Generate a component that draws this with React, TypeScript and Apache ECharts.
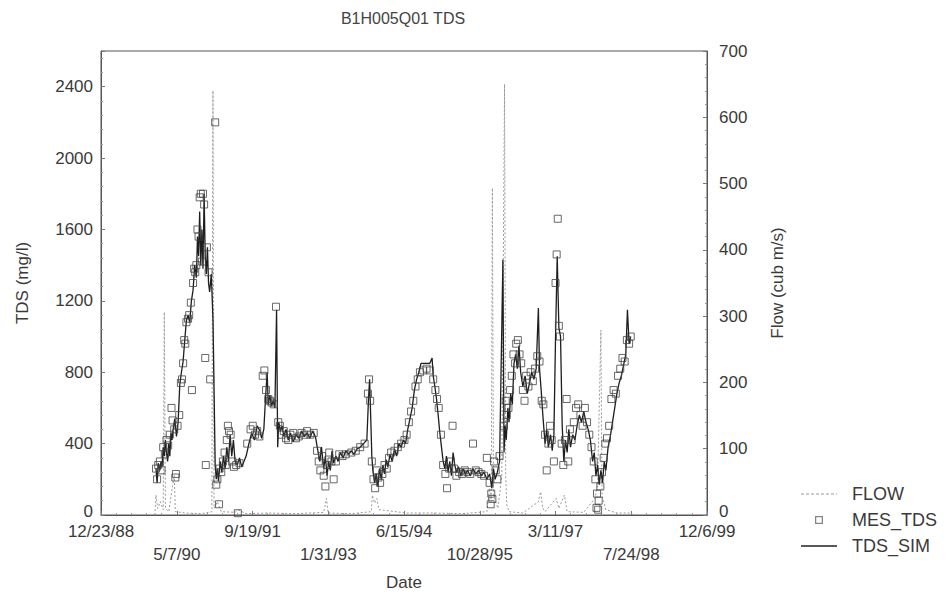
import React, { useEffect, useRef } from "react";
import * as echarts from "echarts";

// Date axis: days counted from 12/23/88, one tick every 500 days
const DATE_LABELS = ["12/23/88", "5/7/90", "9/19/91", "1/31/93", "6/15/94", "10/28/95", "3/11/97", "7/24/98", "12/6/99"];
const DAY_STEP = 500;
const TDS_TICKS = [0, 400, 800, 1200, 1600, 2000, 2400];
const FLOW_TICKS = [0, 100, 200, 300, 400, 500, 600, 700];

// [decimal year, flow in cub m/s]
const FLOW: [number, number][] = [
  [1989.95, 0], [1989.97, 30], [1990.0, 10], [1990.05, 20], [1990.1, 8], [1990.12, 306], [1990.14, 10],
  [1990.2, 5], [1990.3, 60], [1990.32, 5], [1990.5, 3], [1990.8, 2], [1990.98, 5], [1991.0, 640],
  [1991.02, 10], [1991.08, 20], [1991.15, 5], [1991.4, 4], [1991.45, 8], [1991.6, 2], [1992.0, 3],
  [1992.5, 2], [1993.0, 4], [1993.05, 25], [1993.08, 3], [1993.5, 2], [1993.86, 5], [1993.88, 30],
  [1993.92, 18], [1993.96, 25], [1994.0, 8], [1994.5, 3], [1995.0, 3], [1995.5, 2], [1995.95, 5],
  [1996.0, 40], [1996.03, 20], [1996.05, 493], [1996.07, 30], [1996.15, 10], [1996.22, 60],
  [1996.27, 650], [1996.29, 60], [1996.31, 15], [1996.35, 5], [1996.6, 3], [1996.88, 20], [1996.92, 35],
  [1996.96, 10], [1997.0, 5], [1997.2, 25], [1997.25, 10], [1997.35, 30], [1997.4, 5], [1997.7, 4],
  [1997.9, 25], [1997.95, 45], [1998.01, 279], [1998.03, 30], [1998.06, 20], [1998.1, 8], [1998.3, 3],
  [1998.55, 3], [1998.6, 0],
];

// [decimal year, simulated TDS in mg/l]
const TDS_SIM: [number, number][] = [
  [1989.97, 260], [1989.99, 180], [1990.01, 290], [1990.04, 250], [1990.06, 300], [1990.08, 270],
  [1990.1, 380], [1990.12, 330], [1990.14, 420], [1990.16, 350], [1990.18, 300], [1990.2, 400],
  [1990.22, 330], [1990.24, 460], [1990.26, 420], [1990.28, 480], [1990.31, 540], [1990.34, 440],
  [1990.37, 520], [1990.4, 730], [1990.43, 800], [1990.46, 860], [1990.49, 980], [1990.52, 1090],
  [1990.55, 1120], [1990.58, 1080], [1990.61, 1200], [1990.64, 1260], [1990.67, 1400], [1990.7, 1330],
  [1990.72, 1560], [1990.74, 1450], [1990.76, 1700], [1990.78, 1400], [1990.8, 1600], [1990.82, 1380],
  [1990.84, 1800], [1990.86, 1450], [1990.88, 1350], [1990.9, 1500], [1990.92, 1300], [1990.94, 1250],
  [1990.97, 1350], [1991.0, 1100], [1991.02, 700], [1991.04, 280], [1991.06, 200], [1991.08, 260],
  [1991.1, 190], [1991.13, 300], [1991.16, 240], [1991.19, 330], [1991.22, 260], [1991.25, 380],
  [1991.28, 300], [1991.31, 450], [1991.34, 330], [1991.37, 420], [1991.4, 300], [1991.44, 280],
  [1991.48, 320], [1991.52, 270], [1991.56, 300], [1991.6, 330], [1991.65, 400], [1991.7, 460],
  [1991.75, 420], [1991.8, 500], [1991.85, 470], [1991.88, 430], [1991.92, 480], [1991.95, 650],
  [1991.98, 800], [1992.0, 620], [1992.03, 670], [1992.06, 610], [1992.09, 640], [1992.12, 600],
  [1992.15, 1150], [1992.17, 380], [1992.19, 520], [1992.22, 470], [1992.25, 500], [1992.28, 440],
  [1992.32, 480], [1992.36, 420], [1992.4, 460], [1992.45, 410], [1992.5, 450], [1992.55, 430],
  [1992.6, 470], [1992.65, 440], [1992.7, 460], [1992.75, 430], [1992.8, 470], [1992.85, 440],
  [1992.9, 350], [1992.93, 300], [1992.96, 380], [1993.0, 260], [1993.03, 330], [1993.06, 220],
  [1993.09, 300], [1993.12, 250], [1993.15, 360], [1993.18, 290], [1993.22, 330], [1993.26, 300],
  [1993.3, 350], [1993.35, 320], [1993.4, 360], [1993.45, 340], [1993.5, 360], [1993.55, 340],
  [1993.6, 370], [1993.66, 380], [1993.72, 400], [1993.78, 420], [1993.81, 650], [1993.83, 760],
  [1993.85, 550], [1993.87, 330], [1993.89, 250], [1993.92, 180], [1993.95, 230], [1993.98, 160],
  [1994.01, 260], [1994.04, 200], [1994.07, 280], [1994.1, 230], [1994.13, 310], [1994.16, 270],
  [1994.2, 340], [1994.24, 300], [1994.28, 370], [1994.32, 330], [1994.36, 400], [1994.4, 380],
  [1994.44, 420], [1994.48, 400], [1994.52, 480], [1994.56, 540], [1994.6, 600], [1994.64, 700],
  [1994.68, 760], [1994.72, 800], [1994.76, 850], [1994.8, 850], [1994.86, 850], [1994.92, 850],
  [1994.96, 880], [1994.98, 780], [1995.01, 720], [1995.04, 650], [1995.07, 560], [1995.1, 460],
  [1995.13, 380], [1995.16, 300], [1995.19, 260], [1995.22, 330], [1995.25, 240], [1995.28, 300],
  [1995.31, 220], [1995.34, 350], [1995.37, 280], [1995.4, 240], [1995.44, 270], [1995.48, 220],
  [1995.52, 260], [1995.56, 230], [1995.6, 250], [1995.65, 220], [1995.7, 260], [1995.75, 230],
  [1995.8, 250], [1995.85, 220], [1995.9, 240], [1995.95, 200], [1996.0, 230], [1996.04, 150],
  [1996.07, 260], [1996.1, 200], [1996.14, 240], [1996.18, 300], [1996.24, 1430], [1996.26, 350],
  [1996.28, 500], [1996.3, 420], [1996.33, 600], [1996.35, 520], [1996.38, 680], [1996.41, 620],
  [1996.44, 850], [1996.47, 900], [1996.5, 820], [1996.53, 950], [1996.56, 800], [1996.6, 720],
  [1996.64, 780], [1996.68, 680], [1996.72, 740], [1996.76, 800], [1996.8, 760], [1996.84, 820],
  [1996.88, 1160], [1996.9, 820], [1996.93, 700], [1996.96, 560], [1997.0, 400], [1997.03, 480],
  [1997.06, 380], [1997.1, 450], [1997.13, 360], [1997.16, 450], [1997.19, 1000], [1997.22, 1450],
  [1997.25, 1050], [1997.28, 1000], [1997.31, 500], [1997.34, 300], [1997.37, 420], [1997.4, 350],
  [1997.43, 480], [1997.46, 380], [1997.5, 450], [1997.54, 420], [1997.58, 500], [1997.62, 560],
  [1997.66, 520], [1997.7, 580], [1997.74, 520], [1997.78, 480], [1997.82, 420], [1997.86, 300],
  [1997.89, 350], [1997.92, 220], [1997.95, 280], [1997.98, 170], [1998.01, 250], [1998.04, 180],
  [1998.07, 300], [1998.1, 250], [1998.14, 380], [1998.18, 440], [1998.22, 520], [1998.26, 600],
  [1998.3, 680], [1998.34, 740], [1998.38, 780], [1998.42, 840], [1998.46, 900], [1998.49, 1150],
  [1998.52, 960], [1998.55, 1000],
];

// [decimal year, measured TDS in mg/l]
const MES_TDS: [number, number][] = [
  [1989.97, 260], [1989.99, 200], [1990.01, 280], [1990.04, 300], [1990.07, 250], [1990.1, 380],
  [1990.13, 340], [1990.16, 420], [1990.19, 390], [1990.22, 450], [1990.25, 600], [1990.27, 530],
  [1990.3, 480], [1990.32, 210], [1990.33, 230], [1990.36, 500], [1990.39, 560], [1990.42, 740],
  [1990.44, 760], [1990.46, 850], [1990.48, 980], [1990.5, 960], [1990.52, 1080], [1990.55, 1100],
  [1990.57, 1120], [1990.6, 1190], [1990.62, 700], [1990.64, 1300], [1990.66, 1380], [1990.68, 1360],
  [1990.7, 1400], [1990.72, 1600], [1990.74, 1560], [1990.76, 1780], [1990.78, 1800], [1990.8, 1420],
  [1990.82, 1800], [1990.84, 1740], [1990.86, 880], [1990.87, 280], [1990.89, 1500], [1990.92, 1360],
  [1990.95, 760], [1991.04, 2200], [1991.06, 170], [1991.08, 200], [1991.11, 60], [1991.12, 260],
  [1991.15, 240], [1991.18, 300], [1991.21, 350], [1991.23, 280], [1991.25, 420], [1991.27, 500],
  [1991.29, 470], [1991.32, 450], [1991.35, 300], [1991.38, 270], [1991.42, 280], [1991.45, 10],
  [1991.48, 290], [1991.62, 400], [1991.68, 480], [1991.72, 500], [1991.76, 450], [1991.8, 470],
  [1991.84, 440], [1991.9, 780], [1991.93, 810], [1991.96, 700], [1992.0, 650], [1992.03, 640],
  [1992.06, 630], [1992.1, 620], [1992.14, 1167], [1992.18, 520], [1992.21, 500], [1992.24, 450],
  [1992.28, 470], [1992.32, 430], [1992.36, 420], [1992.4, 450], [1992.45, 460], [1992.5, 430],
  [1992.55, 440], [1992.6, 460], [1992.65, 450], [1992.7, 470], [1992.76, 450], [1992.82, 460],
  [1992.88, 360], [1992.91, 300], [1992.94, 250], [1992.97, 330], [1993.0, 220], [1993.03, 160],
  [1993.06, 280], [1993.1, 350], [1993.14, 300], [1993.18, 200], [1993.22, 300], [1993.28, 340],
  [1993.34, 330], [1993.4, 340], [1993.5, 350], [1993.58, 360], [1993.66, 380], [1993.74, 400],
  [1993.8, 680], [1993.82, 760], [1993.84, 640], [1993.87, 300], [1993.9, 200], [1993.93, 150],
  [1993.96, 250], [1993.99, 210], [1994.02, 180], [1994.06, 230], [1994.1, 280], [1994.14, 260],
  [1994.18, 320], [1994.22, 350], [1994.28, 360], [1994.34, 380], [1994.4, 400], [1994.46, 420],
  [1994.5, 450], [1994.54, 520], [1994.58, 580], [1994.62, 640], [1994.66, 720], [1994.7, 760],
  [1994.74, 800], [1994.8, 810], [1994.86, 820], [1994.92, 810], [1994.98, 760], [1995.02, 700],
  [1995.05, 650], [1995.08, 600], [1995.12, 450], [1995.16, 280], [1995.2, 230], [1995.23, 150],
  [1995.27, 260], [1995.3, 300], [1995.33, 500], [1995.36, 260], [1995.4, 220], [1995.45, 240],
  [1995.5, 230], [1995.55, 250], [1995.6, 240], [1995.65, 230], [1995.7, 400], [1995.75, 250],
  [1995.8, 240], [1995.85, 230], [1995.9, 220], [1995.95, 320], [1996.0, 180], [1996.02, 60],
  [1996.03, 120], [1996.05, 90], [1996.08, 300], [1996.11, 250], [1996.14, 200], [1996.18, 330],
  [1996.26, 500], [1996.29, 640], [1996.31, 560], [1996.34, 600], [1996.37, 700], [1996.4, 780],
  [1996.43, 900], [1996.46, 850], [1996.48, 960], [1996.51, 980], [1996.54, 900], [1996.57, 850],
  [1996.6, 700], [1996.63, 640], [1996.66, 780], [1996.7, 720], [1996.74, 800], [1996.78, 750],
  [1996.82, 820], [1996.86, 890], [1996.9, 860], [1996.94, 640], [1996.97, 620], [1997.0, 450],
  [1997.03, 250], [1997.06, 400], [1997.09, 500], [1997.12, 420], [1997.16, 300], [1997.19, 1300],
  [1997.21, 1460], [1997.23, 1660], [1997.25, 1060], [1997.27, 1000], [1997.3, 400], [1997.33, 280],
  [1997.36, 420], [1997.39, 650], [1997.42, 300], [1997.45, 480], [1997.48, 420], [1997.52, 520],
  [1997.56, 600], [1997.6, 620], [1997.64, 560], [1997.68, 500], [1997.72, 600], [1997.76, 520],
  [1997.8, 450], [1997.84, 380], [1997.88, 300], [1997.91, 200], [1997.93, 40], [1997.94, 120],
  [1997.96, 30], [1997.97, 80], [1998.0, 160], [1998.03, 240], [1998.06, 320], [1998.09, 400],
  [1998.12, 430], [1998.16, 500], [1998.2, 650], [1998.24, 700], [1998.28, 680], [1998.32, 780],
  [1998.36, 820], [1998.4, 880], [1998.44, 860], [1998.48, 980], [1998.52, 960], [1998.55, 1000],
];

const BASE = Date.UTC(1988, 11, 23);
const DAY = 86400000;

// decimal year -> days since 12/23/88
function toDay(yr: number): number {
  const y = Math.floor(yr);
  const s = Date.UTC(y, 0, 1);
  const e = Date.UTC(y + 1, 0, 1);
  return (s + (yr - y) * (e - s) - BASE) / DAY;
}

const toPoints = (rows: [number, number][]) => rows.map(([t, v]) => [toDay(t), v]);

const FONT = "'Liberation Sans', Arial, sans-serif";
const INK = "#3a3a3a";

// legend glyphs: thin solid bar, dashed bar, hollow square
const ICON_SOLID = "path://M0,0H36V1.4H0Z";
const ICON_DASHED = "path://M0,0H3V1H0ZM5,0H8V1H5ZM10,0H13V1H10ZM15,0H18V1H15ZM20,0H23V1H20ZM25,0H28V1H25ZM30,0H33V1H30ZM35,0H36V1H35Z";
const ICON_SQUARE = "path://M0,0H10V10H0ZM1.6,1.6V8.4H8.4V1.6Z";

export default function App() {
  const ref = useRef<HTMLDivElement>(null);

  useEffect(() => {
    if (!ref.current) return;
    const chart = echarts.init(ref.current, undefined, { renderer: "svg" });
    const maxDay = DAY_STEP * (DATE_LABELS.length - 1);

    const axisName = { fontSize: 17, color: INK, fontFamily: FONT };
    const tickLabel = { fontSize: 17, color: INK, fontFamily: FONT };
    // the zero labels sit a little higher so they clear the date row
    const zeroRich = { z: { fontSize: 17, color: INK, fontFamily: FONT, padding: [0, 0, 7, 0] } };
    const valueLabel = (ticks: number[]) => (v: number) =>
      v === 0 ? "{z|0}" : ticks.includes(v) ? String(v) : "";

    chart.setOption({
      animation: false,
      backgroundColor: "#ffffff",
      textStyle: { fontFamily: FONT, color: INK },
      title: {
        text: "B1H005Q01 TDS",
        left: 395,
        textAlign: "center",
        top: 2,
        padding: 0,
        textStyle: { fontSize: 16, fontWeight: "normal", color: "#444", fontFamily: FONT },
      },
      legend: {
        orient: "vertical",
        left: 788,
        top: 472,
        itemWidth: 36,
        itemHeight: 8,
        itemGap: 8,
        textStyle: { fontSize: 18, color: INK, fontFamily: FONT, padding: [0, 0, 0, 10] },
        data: [
          { name: "FLOW", icon: ICON_DASHED, itemStyle: { color: "#9a9a9a", borderWidth: 0 } },
          { name: "MES_TDS", icon: ICON_SQUARE, itemStyle: { color: "#666", borderWidth: 0 } },
          { name: "TDS_SIM", icon: ICON_SOLID, itemStyle: { color: "#222", borderWidth: 0 } },
        ],
      },
      grid: {
        left: 93,
        right: 231,
        top: 43,
        bottom: 78,
        outerBoundsMode: "none",
        show: true,
        borderColor: "#555",
        borderWidth: 1,
      },
      xAxis: {
        type: "value",
        min: 0,
        max: maxDay,
        interval: DAY_STEP,
        name: "Date",
        nameLocation: "middle",
        nameGap: 59,
        nameTextStyle: axisName,
        axisLine: { lineStyle: { color: "#555", width: 1 } },
        axisTick: { inside: true, length: 4, lineStyle: { color: "#777" } },
        minorTick: { show: true, splitNumber: 5, length: 2, lineStyle: { color: "#999" } },
        splitLine: { show: false },
        axisLabel: {
          ...tickLabel,
          margin: 5,
          lineHeight: 23,
          hideOverlap: false,
          formatter: (v: number) => {
            const i = Math.round(v / DAY_STEP);
            const label = DATE_LABELS[i] ?? "";
            return i % 2 === 1 ? "\n" + label : label;
          },
        },
      },
      yAxis: [
        {
          type: "value",
          min: 0,
          max: 2600,
          interval: 400,
          name: "TDS (mg/l)",
          nameLocation: "middle",
          nameGap: 70,
          nameRotate: 90,
          nameTextStyle: axisName,
          axisLine: { show: true, lineStyle: { color: "#555", width: 1 } },
          axisTick: { show: true, inside: true, length: 4, lineStyle: { color: "#777" } },
          minorTick: { show: true, splitNumber: 5, length: 2, lineStyle: { color: "#999" } },
          splitLine: { show: false },
          axisLabel: {
            ...tickLabel,
            margin: 8,
            rich: zeroRich,
            formatter: valueLabel(TDS_TICKS),
          },
        },
        {
          type: "value",
          min: 0,
          max: 700,
          interval: 100,
          position: "right",
          name: "Flow (cub m/s)",
          nameLocation: "middle",
          nameGap: 62,
          nameRotate: 90,
          nameTextStyle: axisName,
          axisLine: { show: true, lineStyle: { color: "#555", width: 1 } },
          axisTick: { show: true, inside: true, length: 4, lineStyle: { color: "#777" } },
          minorTick: { show: true, splitNumber: 5, length: 2, lineStyle: { color: "#999" } },
          splitLine: { show: false },
          axisLabel: {
            ...tickLabel,
            margin: 12,
            rich: zeroRich,
            formatter: valueLabel(FLOW_TICKS),
          },
        },
      ],
      series: [
        {
          name: "FLOW",
          type: "line",
          yAxisIndex: 1,
          data: toPoints(FLOW),
          showSymbol: false,
          symbol: "none",
          z: 1,
          color: "#9a9a9a",
          lineStyle: { color: "#9a9a9a", width: 1, type: [2, 2] },
        },
        {
          name: "TDS_SIM",
          type: "line",
          yAxisIndex: 0,
          data: toPoints(TDS_SIM),
          showSymbol: false,
          symbol: "none",
          z: 2,
          color: "#1e1e1e",
          lineStyle: { color: "#1e1e1e", width: 1.3 },
        },
        {
          name: "MES_TDS",
          type: "scatter",
          yAxisIndex: 0,
          data: toPoints(MES_TDS),
          symbol: "rect",
          symbolSize: 7,
          z: 3,
          itemStyle: { color: "rgba(255,255,255,0)", borderColor: "#444", borderWidth: 1 },
        },
      ],
    });

    return () => chart.dispose();
  }, []);

  return <div ref={ref} style={{ width: 930, height: 585 }} />;
}
